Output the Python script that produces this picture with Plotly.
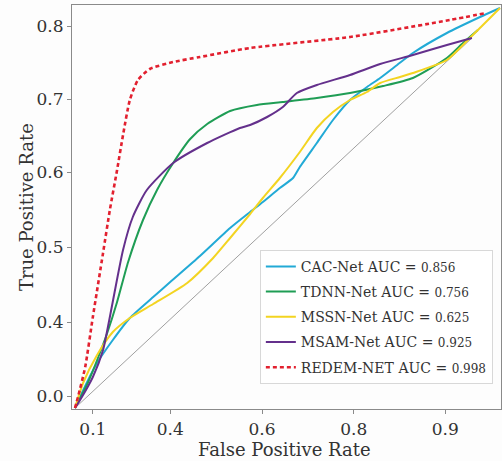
import plotly.graph_objects as go

# ---- data (FPR / TPR, normalised plot units) ----
model_names = ["CAC-Net", "TDNN-Net", "MSSN-Net", "MSAM-Net", "REDEM-NET"]
auc_values = ["0.856", "0.756", "0.625", "0.925", "0.998"]

cac_x = [0, 0.005, 0.052, 0.089, 0.129, 0.184, 0.224, 0.294, 0.365, 0.412, 0.442, 0.482,
         0.513, 0.529, 0.569, 0.607, 0.647, 0.687, 0.718, 0.758, 0.795, 0.875, 0.953, 1.0]
cac_y = [0, 0.0125, 0.1125, 0.17, 0.225, 0.2775, 0.315, 0.38, 0.45, 0.49, 0.515, 0.55,
         0.575, 0.6025, 0.6625, 0.72, 0.77, 0.8025, 0.825, 0.8575, 0.8875, 0.9375, 0.9775, 1.0]

tdnn_x = [0, 0.031, 0.054, 0.075, 0.099, 0.125, 0.16, 0.193, 0.231, 0.271, 0.311, 0.365,
          0.428, 0.489, 0.569, 0.647, 0.725, 0.795, 0.875, 0.913, 0.948]
tdnn_y = [0, 0.065, 0.125, 0.185, 0.265, 0.365, 0.47, 0.545, 0.6125, 0.6725, 0.71, 0.7425,
          0.7575, 0.765, 0.775, 0.7875, 0.805, 0.825, 0.875, 0.9125, 0.945]

mssn_x = [0, 0.019, 0.052, 0.089, 0.129, 0.184, 0.264, 0.325, 0.365, 0.412, 0.442, 0.482,
          0.529, 0.569, 0.607, 0.647, 0.687, 0.718, 0.765, 0.795, 0.875, 0.929, 1.0]
mssn_y = [0, 0.0625, 0.1325, 0.19, 0.225, 0.26, 0.3125, 0.375, 0.425, 0.485, 0.525, 0.575,
          0.64, 0.7, 0.74, 0.77, 0.79, 0.8125, 0.8275, 0.8375, 0.87, 0.925, 1.0]

msam_x = [0, 0.012, 0.042, 0.066, 0.082, 0.113, 0.136, 0.169, 0.231, 0.311, 0.388, 0.412,
          0.452, 0.489, 0.522, 0.569, 0.647, 0.718, 0.795, 0.875, 0.934]
msam_y = [0, 0.02, 0.0775, 0.145, 0.2275, 0.395, 0.4775, 0.545, 0.6125, 0.6625, 0.7, 0.7075,
          0.7275, 0.7525, 0.7875, 0.8075, 0.8325, 0.86, 0.8825, 0.9075, 0.925]

redem_x = [0, 0.007, 0.024, 0.042, 0.066, 0.082, 0.099, 0.113, 0.129, 0.148, 0.176, 0.231,
           0.294, 0.412, 0.647, 0.882, 0.967]
redem_y = [0, 0.0275, 0.1025, 0.2275, 0.3875, 0.495, 0.595, 0.6825, 0.77, 0.82, 0.8475, 0.865,
           0.8775, 0.9, 0.9275, 0.97, 0.9875]

chance_x = [0, 0.934]
chance_y = [0, 0.925]

x_tick_vals = [0.042, 0.224, 0.44, 0.656, 0.871]
x_tick_text = ["0.1", "0.4", "0.6", "0.8", "0.9"]
y_tick_vals = [0.03, 0.215, 0.4025, 0.59, 0.7725, 0.955]
y_tick_text = ["0.0", "0.4", "0.5", "0.6", "0.7", "0.8"]

x_title = "False Positive Rate"
y_title = "True Positive Rate"

colors = ["#22aad6", "#1f9d55", "#f3d421", "#64308c", "#e2202f"]

FONT = "DejaVu Serif"

fig = go.Figure()
fig.add_trace(go.Scatter(x=chance_x, y=chance_y, mode="lines",
                         line=dict(color="#a0a0a0", width=1), showlegend=False, hoverinfo="skip"))

series = [(cac_x, cac_y), (tdnn_x, tdnn_y), (mssn_x, mssn_y), (msam_x, msam_y), (redem_x, redem_y)]
for i, ((xs, ys), mn, auc, c) in enumerate(zip(series, model_names, auc_values, colors)):
    dash = "4px,3px" if i == 4 else "solid"
    w = 2.6 if i == 4 else 2
    label = f"{mn} AUC = <span style='font-size:12px'>{auc}</span>"
    fig.add_trace(go.Scatter(x=xs, y=ys, mode="lines", name=label, legendgroup=str(i),
                             line=dict(color=c, width=w, dash=dash, shape="spline", smoothing=0.6)))

axis_common = dict(showline=True, linecolor="#8a8a8a", linewidth=1.2, mirror=True,
                   showgrid=False, zeroline=False, ticks="outside", ticklen=4,
                   tickcolor="#8a8a8a", tickfont=dict(family=FONT, size=17, color="#333"))

fig.update_xaxes(range=[-0.00706, 1.00235], tickvals=x_tick_vals, ticktext=x_tick_text,
                 **axis_common)
fig.update_yaxes(range=[-0.0025, 1.0075], tickvals=y_tick_vals, ticktext=y_tick_text,
                 **axis_common)

fig.add_annotation(text=x_title, xref="paper", yref="paper", x=0.4965, y=-0.1,
                   xanchor="center", yanchor="middle", showarrow=False,
                   font=dict(family=FONT, size=18, color="#333"))
fig.add_annotation(text=y_title, xref="paper", yref="paper", x=-0.107, y=0.5,
                   xanchor="center", yanchor="middle", showarrow=False, textangle=-90,
                   font=dict(family=FONT, size=18, color="#333"))

fig.update_layout(
    width=502, height=461,
    margin=dict(l=72, r=1, t=5, b=52),
    paper_bgcolor="#fdfdfd", plot_bgcolor="#fdfdfd",
    showlegend=True,
    legend=dict(x=0.981, y=0.394, xanchor="right", yanchor="top",
                bgcolor="rgba(255,255,255,0.9)", bordercolor="#d8d8d8", borderwidth=1,
                font=dict(family=FONT, size=14, color="#333"), tracegroupgap=4,
                itemwidth=30),
)

fig.write_html("out.html", config={"displayModeBar": False},
               post_script="document.body.style.margin='0';document.body.style.overflow='hidden';")
